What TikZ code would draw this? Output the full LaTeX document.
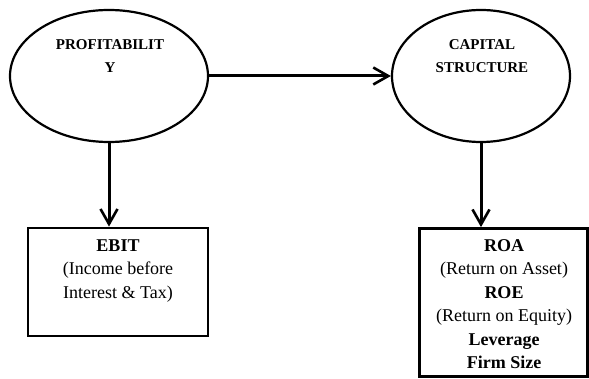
\documentclass[tikz,border=0pt]{standalone}
\usepackage{fontspec}
\setmainfont{Liberation Serif}
\usetikzlibrary{shapes.geometric,arrows.meta}
\tikzset{
  oval/.style={draw, line width=2.2pt, ellipse, inner sep=0pt},
  boxnode/.style={draw, line width=2.8pt, inner sep=0pt},
  conn/.style={line width=3pt, -{Straight Barb[length=15pt,width=17pt,line width=2.6pt]}},
  otext/.style={font=\fontsize{15}{23}\selectfont\bfseries, align=center},
  btext/.style={font=\fontsize{18}{23.5}\selectfont, align=center},
}
\begin{document}
\begin{tikzpicture}[x=1pt,y=-1pt]
\useasboundingbox (0,0) rectangle (589,379);
\node[oval, minimum width=198pt, minimum height=132pt] (prof) at (109,76) {};
\node[otext] (proft) at (110,56.5) {PROFITABILIT\\Y};
\node[oval, minimum width=178pt, minimum height=132pt] (cap) at (481,76) {};
\node[otext] (capt) at (482,56) {CAPITAL\\STRUCTURE};
\node[boxnode, minimum width=180pt, minimum height=108pt] (ebit) at (118,282) {};
\node[btext, anchor=north] (ebitt) at (118,236) {\textbf{EBIT}\\(Income before\\Interest \& Tax)};
\node[boxnode, minimum width=168pt, minimum height=148pt] (roa) at (503.5,302.5) {};
\node[btext, anchor=north] (roat) at (504,236) {\textbf{ROA}\\(Return on Asset)\\\textbf{ROE}\\(Return on Equity)\\\textbf{Leverage}\\\textbf{Firm Size}};
\draw[conn] (prof.east) -- (cap.west);
\draw[conn] (prof.south) -- (prof.south |- ebit.north);
\draw[conn] (cap.south) -- (cap.south |- roa.north);
\end{tikzpicture}
\end{document}
